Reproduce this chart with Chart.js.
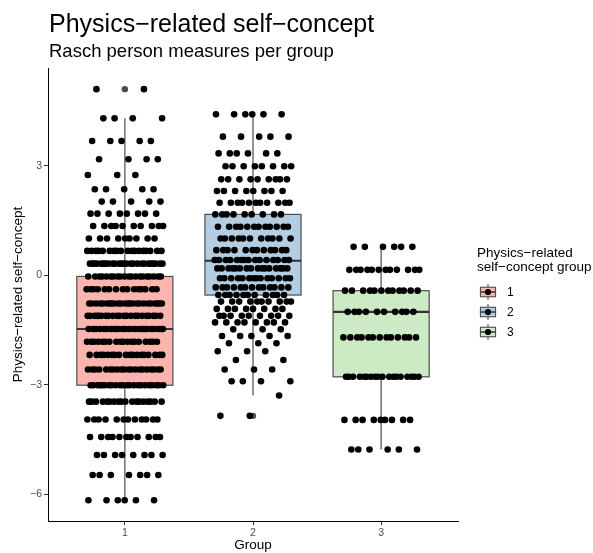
<!DOCTYPE html>
<html lang="en">
<head>
<meta charset="UTF-8">
<title>Physics-related self-concept</title>
<script src="https://cdn.jsdelivr.net/npm/chart.js"></script>
<style>
  body { margin: 0; background: #fff; }
  canvas { display: block; }
</style>
</head>
<body>
<canvas id="chart" width="593" height="553"></canvas>
<script>
// groups and tick labels
const groups = [1, 2, 3];
const yTicks = [-6, -3, 0, 3];
const boxColors = ['#FBB4AE', '#B3CDE3', '#CCEBC5'];

// person measures: distinct levels and how many persons sit on each level
const g1Levels = [5.10, 4.30, 3.68, 3.18, 2.75, 2.36, 2.02, 1.69, 1.35, 1.01, 0.67, 0.32, -0.03, -0.38, -0.77, -1.11, -1.47, -1.82, -2.18, -2.58, -3.01, -3.46, -3.95, -4.43, -4.92, -5.47, -6.16];
const g1Counts = [2, 4, 5, 4, 3, 5, 5, 8, 10, 9, 18, 25, 20, 15, 24, 22, 24, 18, 18, 20, 22, 18, 12, 11, 8, 7, 6];
const g2Levels = [4.41, 3.80, 3.34, 2.99, 2.63, 2.31, 1.99, 1.67, 1.33, 1.01, 0.69, 0.42, 0.19, -0.08, -0.33, -0.54, -0.72, -0.92, -1.11, -1.29, -1.48, -1.66, -1.86, -2.08, -2.32, -2.58, -2.90, -3.29, -3.85];
const g2Counts = [6, 5, 6, 8, 9, 8, 11, 9, 12, 11, 12, 15, 16, 14, 13, 11, 10, 8, 9, 8, 3, 5, 3, 3, 2, 3, 4, 1, 2];
const g3Levels = [0.78, 0.15, -0.42, -1.00, -1.70, -2.78, -3.96, -4.77];
const g3Counts = [6, 12, 12, 10, 13, 18, 9, 6];

// box statistics per group
const whiskerLow = [-6.16, -3.29, -4.77];
const q1 = [-3.01, -0.54, -2.78];
const median = [-1.47, 0.40, -1.00];
const q3 = [-0.03, 1.67, -0.42];
const whiskerHigh = [4.30, 4.41, 0.78];
const outliers = [[5.10], [-3.85], []];

const levels = [g1Levels, g2Levels, g3Levels];
const counts = [g1Counts, g2Counts, g3Counts];

// jittered points (horizontal spread only, values come from the arrays)
const points = [];
groups.forEach((g, gi) => {
    let k = 0;
    levels[gi].forEach((v, li) => {
        for (let n = 0; n < counts[gi][li]; n++) {
            const off = (((k * 0.6180339887) + 0.27 * gi + 0.13) % 1 - 0.5) * 0.6;
            points.push({ x: g + off, y: v });
            k++;
        }
    });
});

const FONT = '"Liberation Sans", Arial, Helvetica, sans-serif';
const minus = s => String(s).replace('-', '\u2212');

const boxPlugin = {
    id: 'boxes',
    beforeDatasetsDraw(chart) {
        const { ctx, scales: { x, y } } = chart;
        const halfW = (x.getPixelForValue(1.375) - x.getPixelForValue(1));
        ctx.save();
        groups.forEach((g, i) => {
            const cx = x.getPixelForValue(g);
            ctx.strokeStyle = '#4d4d4d';
            ctx.lineWidth = 1.2;
            ctx.beginPath();
            ctx.moveTo(cx, y.getPixelForValue(q3[i]));
            ctx.lineTo(cx, y.getPixelForValue(whiskerHigh[i]));
            ctx.moveTo(cx, y.getPixelForValue(q1[i]));
            ctx.lineTo(cx, y.getPixelForValue(whiskerLow[i]));
            ctx.stroke();
            const top = y.getPixelForValue(q3[i]);
            const bot = y.getPixelForValue(q1[i]);
            ctx.fillStyle = boxColors[i];
            ctx.fillRect(cx - halfW, top, halfW * 2, bot - top);
            ctx.strokeRect(cx - halfW, top, halfW * 2, bot - top);
            ctx.lineWidth = 2.2;
            ctx.strokeStyle = '#333';
            ctx.beginPath();
            const my = y.getPixelForValue(median[i]);
            ctx.moveTo(cx - halfW, my);
            ctx.lineTo(cx + halfW, my);
            ctx.stroke();
            ctx.fillStyle = '#4d4d4d';
            outliers[i].forEach(v => {
                ctx.beginPath();
                ctx.arc(cx, y.getPixelForValue(v), 3.2, 0, Math.PI * 2);
                ctx.fill();
            });
        });
        ctx.restore();
    },
    afterDraw(chart) {
        const ctx = chart.ctx;
        ctx.save();
        ctx.fillStyle = '#000';
        ctx.textBaseline = 'alphabetic';
        ctx.textAlign = 'left';
        ctx.font = '25px ' + FONT;
        ctx.fillText('Physics\u2212related self\u2212concept', 49, 32);
        ctx.font = '18.5px ' + FONT;
        ctx.fillText('Rasch person measures per group', 49, 57);

        // legend
        ctx.font = '13.5px ' + FONT;
        ctx.fillText('Physics\u2212related', 477, 257);
        ctx.fillText('self\u2212concept group', 477, 271);
        groups.forEach((g, i) => {
            const kx = 479, ky = 292 + i * 20, kw = 18, kh = 19;
            const cx = kx + kw / 2;
            ctx.strokeStyle = '#4d4d4d';
            ctx.lineWidth = 1.1;
            ctx.beginPath();
            ctx.moveTo(cx, ky - kh * 0.42);
            ctx.lineTo(cx, ky - kh * 0.25);
            ctx.moveTo(cx, ky + kh * 0.25);
            ctx.lineTo(cx, ky + kh * 0.42);
            ctx.stroke();
            ctx.fillStyle = boxColors[i];
            ctx.fillRect(kx + kw * 0.08, ky - kh * 0.25, kw * 0.84, kh * 0.5);
            ctx.strokeRect(kx + kw * 0.08, ky - kh * 0.25, kw * 0.84, kh * 0.5);
            ctx.lineWidth = 1.8;
            ctx.beginPath();
            ctx.moveTo(kx + kw * 0.08, ky);
            ctx.lineTo(kx + kw * 0.92, ky);
            ctx.stroke();
            ctx.fillStyle = '#000';
            ctx.beginPath();
            ctx.arc(cx, ky, 3.1, 0, Math.PI * 2);
            ctx.fill();
            ctx.font = '12px ' + FONT;
            ctx.textBaseline = 'middle';
            ctx.fillText(String(g), 507, ky + 1);
            ctx.textBaseline = 'alphabetic';
        });
        ctx.restore();
    }
};

new Chart(document.getElementById('chart').getContext('2d'), {
    type: 'scatter',
    data: {
        datasets: [{
            data: points,
            backgroundColor: '#000',
            borderWidth: 0,
            pointRadius: 3.3,
            pointHoverRadius: 3.3
        }]
    },
    options: {
        responsive: false,
        devicePixelRatio: 1,
        animation: false,
        layout: { padding: { top: 68, right: 135, left: 0, bottom: 0 } },
        plugins: {
            legend: { display: false },
            tooltip: { enabled: false }
        },
        scales: {
            x: {
                type: 'linear',
                min: 0.4,
                max: 3.6,
                afterFit: s => { s.height = 32; },
                afterBuildTicks: s => { s.ticks = groups.map(v => ({ value: v })); },
                grid: { drawOnChartArea: false, tickLength: 4, tickColor: '#333', lineWidth: 1 },
                border: { color: '#000', width: 1 },
                ticks: { color: '#4d4d4d', padding: 2, font: { family: FONT, size: 10.5 }, callback: v => String(v) },
                title: { display: true, text: 'Group', color: '#000', padding: { top: 0, bottom: 0 }, font: { family: FONT, size: 13.5 } }
            },
            y: {
                min: -6.73,
                max: 5.68,
                afterFit: s => { s.width = 48; },
                afterBuildTicks: s => { s.ticks = yTicks.map(v => ({ value: v })); },
                grid: { drawOnChartArea: false, tickLength: 4, tickColor: '#333', lineWidth: 1 },
                border: { color: '#000', width: 1 },
                ticks: { color: '#4d4d4d', padding: 2, font: { family: FONT, size: 10.5 }, callback: v => minus(v) },
                title: { display: true, text: 'Physics\u2212related self\u2212concept', color: '#000', padding: { top: 10, bottom: 0 }, font: { family: FONT, size: 13.5 } }
            }
        }
    },
    plugins: [boxPlugin]
});
</script>
</body>
</html>
